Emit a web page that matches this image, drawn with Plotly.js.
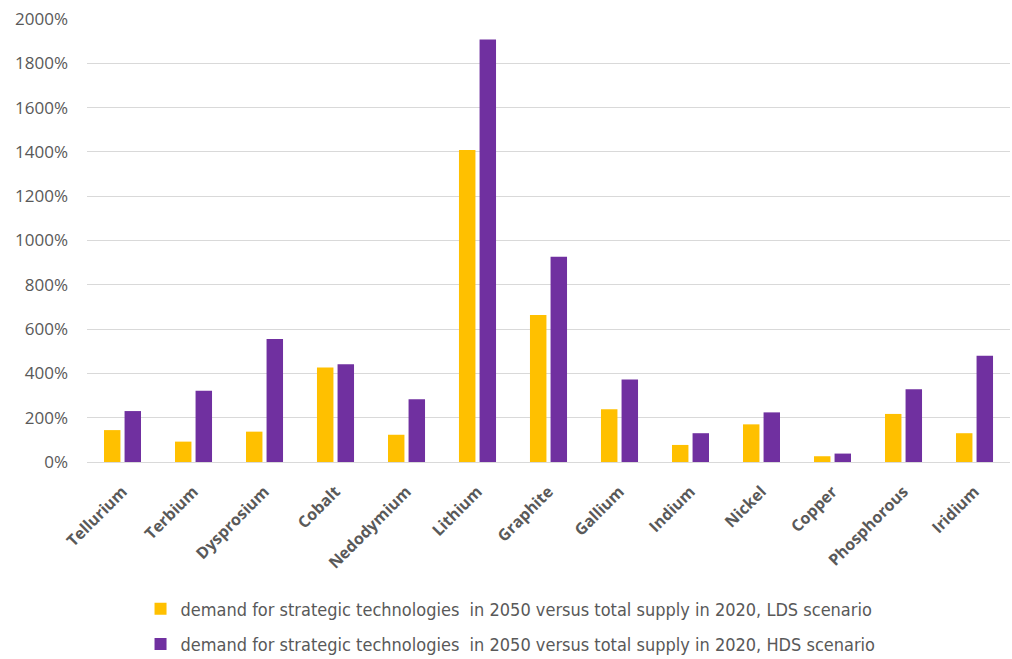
<!DOCTYPE html>
<html>
<head>
<meta charset="utf-8">
<script src="https://cdn.plot.ly/plotly-3.0.1.min.js"></script>
<style>html,body{margin:0;padding:0;background:#fff;}#chart{width:1012px;height:659px;}</style>
</head>
<body>
<div id="chart"></div>
<script>
const categories = ["Tellurium","Terbium","Dysprosium","Cobalt","Nedodymium","Lithium","Graphite","Gallium","Indium","Nickel","Copper","Phosphorous","Iridium"];
const ldsValues = [144, 92, 137, 427, 123, 1409, 664, 238, 77, 170, 26, 217, 130];
const hdsValues = [230, 322, 555, 441, 283, 1908, 927, 373, 130, 224, 38, 328, 480];
const seriesNames = [
  "demand for strategic technologies  in 2050 versus total supply in 2020, LDS scenario",
  "demand for strategic technologies  in 2050 versus total supply in 2020, HDS scenario"
];
const yTicks = [0,200,400,600,800,1000,1200,1400,1600,1800,2000];
const yTickLabels = yTicks.map(v => v + "%");

const data = [
  {type:"bar", x:categories, y:ldsValues, name:seriesNames[0], legendgroup:"lds", marker:{color:"#FFC000"}, hoverinfo:"x+y"},
  {type:"bar", x:categories, y:hdsValues, name:seriesNames[1], legendgroup:"hds", marker:{color:"#7030A0"}, hoverinfo:"x+y"}
];
const layout = {
  width:1012, height:659,
  margin:{l:87, r:2, t:19, b:197, autoexpand:false},
  paper_bgcolor:"#fff", plot_bgcolor:"#fff",
  barmode:"group", bargap:0.42, bargroupgap:0.2,
  font:{family:"Open Sans, DejaVu Sans, sans-serif", color:"#595959", size:15},
  xaxis:{
    tickangle:-45, tickfont:{family:"Open Sans, sans-serif", size:16, color:"#595959", weight:"bold"},
    ticklabelstandoff:13, automargin:false,
    showline:true, linecolor:"#d9d9d9", linewidth:1, ticks:"", showgrid:false
  },
  yaxis:{
    range:[0,2000], tickvals:yTicks, ticktext:yTickLabels,
    showgrid:true, gridcolor:"#d9d9d9", gridwidth:1, zeroline:false,
    tickfont:{family:"Open Sans, sans-serif", size:17, color:"#595959"}, ticks:"", ticklen:0,
    ticklabelstandoff:18, automargin:false
  },
  showlegend:true,
  legend:{orientation:"v", x:0.058, xanchor:"left", y:-0.29, yanchor:"top",
    font:{family:"DejaVu Sans Condensed, Liberation Sans Narrow, sans-serif", size:18, color:"#595959"},
    itemwidth:30, tracegroupgap:9, bgcolor:"rgba(0,0,0,0)"}
};
Plotly.newPlot("chart", data, layout, {displayModeBar:false, staticPlot:true});
</script>
</body>
</html>
